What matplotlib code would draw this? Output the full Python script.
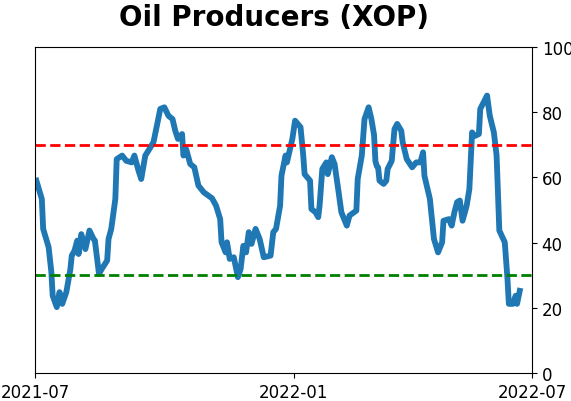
import numpy as np
import pandas as pd
import matplotlib
matplotlib.use("Agg")
import matplotlib.pyplot as plt

# days since 2021-07-01 and the indicator value
days = [1, 5, 6, 10, 12, 13, 16, 18, 20, 23, 26, 27, 29, 31, 32, 34, 37, 40, 43, 44,
        45, 47, 49, 53, 54, 56, 59, 60, 64, 67, 71, 73, 76, 78, 81, 84, 87, 89, 92, 95,
        98, 101, 103, 105, 108, 109, 111, 114, 117, 120, 124, 130, 133, 136, 137, 140, 141, 143, 146, 149,
        151, 153, 155, 157, 159, 162, 165, 168, 173, 175, 177, 180, 181, 184, 185, 189, 191, 195, 197, 198,
        202, 203, 206, 208, 209, 211, 214, 215, 218, 220, 223, 225, 229, 231, 236, 237, 240, 242, 245, 247,
        249, 250, 251, 252, 253, 256, 258, 259, 262, 264, 266, 269, 270, 273, 277, 280, 283, 285, 286, 290,
        293, 296, 299, 300, 304, 306, 308, 310, 312, 314, 317, 319, 321, 323, 326, 327, 330, 332, 334, 337,
        339, 341, 345, 347, 348, 351, 353, 354, 356]
values = [59.0, 53.4, 44.2, 38.6, 31.0, 23.7, 20.2, 24.8, 21.2, 24.8, 31.9, 36.0, 37.5, 40.6, 36.5, 42.6, 38.0, 43.7, 41.1, 40.6,
          37.1, 30.4, 31.9, 34.5, 41.1, 44.2, 53.4, 65.6, 66.7, 65.1, 64.6, 66.7, 62.1, 59.5, 66.7, 68.7, 70.8, 74.8, 81.0, 81.5,
          78.9, 77.9, 74.3, 71.8, 73.3, 66.7, 68.7, 64.1, 63.1, 57.5, 55.4, 53.6, 51.3, 47.2, 40.1, 37.0, 40.1, 35.0, 35.5, 29.4,
          31.9, 39.0, 37.0, 43.2, 39.6, 44.2, 41.1, 35.5, 36.0, 43.2, 44.2, 51.3, 60.5, 66.7, 64.6, 71.8, 77.4, 75.4, 66.7, 61.0,
          59.0, 50.3, 49.3, 47.8, 51.3, 62.6, 64.6, 61.0, 66.2, 64.1, 55.4, 49.3, 45.2, 48.3, 49.8, 59.5, 66.7, 77.9, 81.5, 78.0,
          73.0, 65.0, 63.5, 63.0, 59.0, 58.0, 59.0, 62.6, 65.1, 74.8, 76.4, 74.3, 70.8, 65.6, 63.1, 64.6, 64.6, 67.7, 60.5, 53.4,
          41.1, 37.0, 40.1, 46.7, 47.2, 45.2, 49.3, 52.4, 52.9, 46.7, 51.3, 56.4, 73.8, 72.7, 73.3, 81.0, 83.5, 85.1, 78.9, 73.8,
          66.7, 43.7, 40.1, 28.8, 21.2, 21.2, 23.7, 21.2, 25.2]

upper = 70
lower = 30
tick_labels = ["2021-07", "2022-01", "2022-07"]

start = pd.Timestamp("2021-07-01")
dates = start + pd.to_timedelta(days, unit="D")

fig = plt.figure(figsize=(5.71, 4.02), dpi=100)
ax = fig.add_axes([0.0613, 0.0697, 0.8704, 0.8109])

ax.plot(dates, values, color="#1f77b4", lw=4.2)
ax.axhline(upper, color="red", ls="--", lw=2)
ax.axhline(lower, color="green", ls="--", lw=2)

ax.set_ylim(0, 100)
ax.set_xlim(start, pd.Timestamp("2022-07-01"))
ax.set_xticks([start, pd.Timestamp("2022-01-07"), pd.Timestamp("2022-07-01")])
ax.set_xticklabels(tick_labels)
ax.yaxis.tick_right()
ax.set_yticks([0, 20, 40, 60, 80, 100])
ax.tick_params(labelsize=12)
ax.set_title("Oil Producers (XOP)", fontsize=20, fontweight="bold", pad=15.5, x=0.481)

fig.savefig("out.png", dpi=100)
